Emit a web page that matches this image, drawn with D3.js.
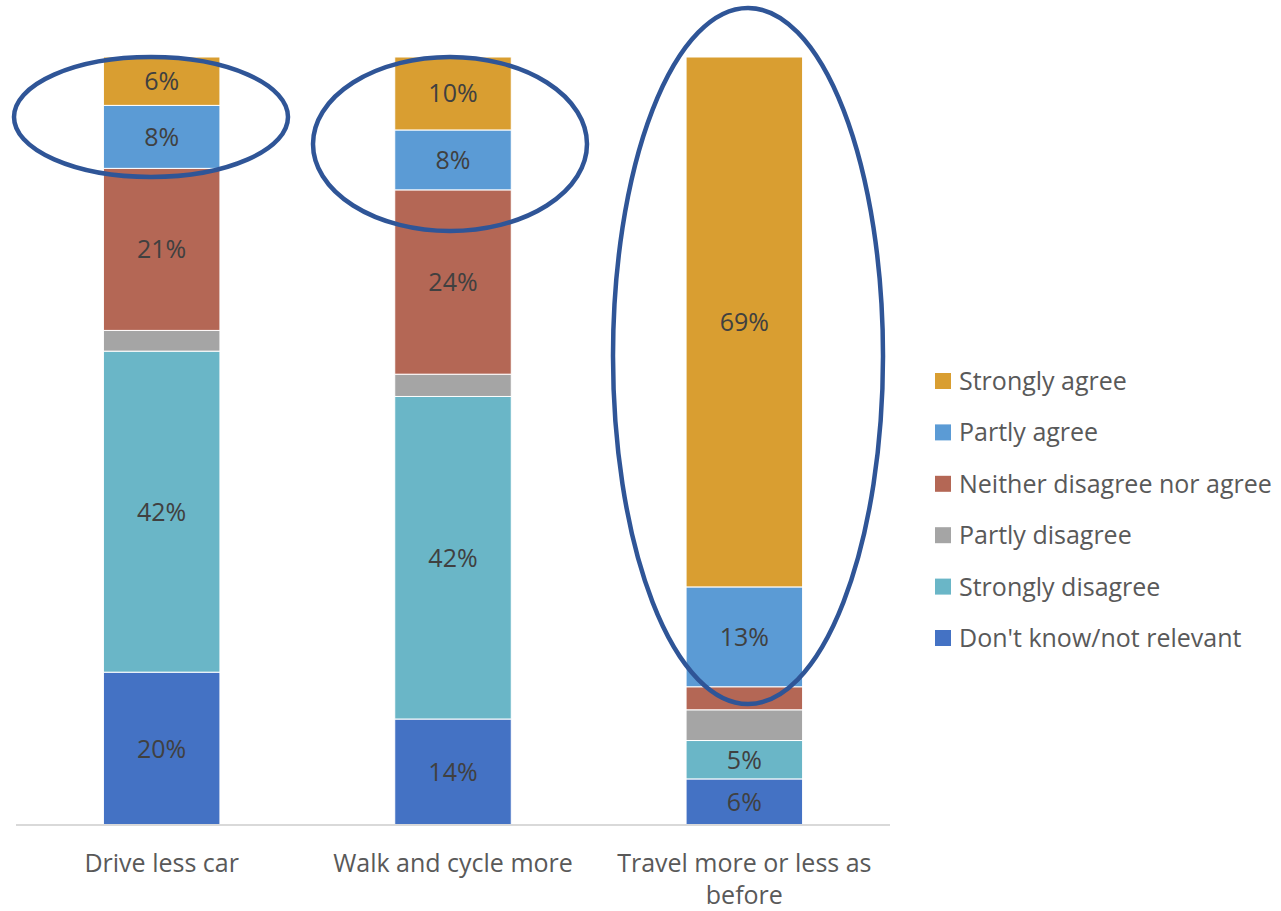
<!DOCTYPE html>
<html><head><meta charset="utf-8">
<script src="https://cdn.jsdelivr.net/npm/d3@7"></script>
<style>body{margin:0;background:#fff}svg{display:block}text{font-family:"Open Sans",Lato,sans-serif}</style>
</head><body>
<svg id="c" width="1281" height="911"></svg>
<script>
const categories = ["Drive less car", "Walk and cycle more", "Travel more or less as before"];
const seriesNames = ["Don't know/not relevant", "Strongly disagree", "Partly disagree", "Neither disagree nor agree", "Partly agree", "Strongly agree"];
const seriesColors = ["#4472C4", "#6AB6C7", "#A5A5A5", "#B46755", "#5B9BD5", "#D99E31"];
const dontKnow = [19.9, 13.8, 6];
const stronglyDisagree = [41.8, 42, 5];
const partlyDisagree = [2.7, 2.9, 4];
const neither = [21.1, 24, 3];
const partlyAgree = [8.2, 7.8, 13];
const stronglyAgree = [6.3, 9.5, 69];
const legendOrder = ["Strongly agree", "Partly agree", "Neither disagree nor agree", "Partly disagree", "Strongly disagree", "Don't know/not relevant"];

const seriesValues = [dontKnow, stronglyDisagree, partlyDisagree, neither, partlyAgree, stronglyAgree];
const rows = categories.map((c, i) => {
  const r = {cat: c};
  seriesNames.forEach((s, j) => r[s] = seriesValues[j][i]);
  return r;
});
const stack = d3.stack().keys(seriesNames)(rows);
const color = d3.scaleOrdinal(seriesNames, seriesColors);

const FS = 25;
const svg = d3.select("#c");
const x = d3.scaleBand().domain(categories).range([16, 890]).paddingInner(0.6).paddingOuter(0.3);
const y = d3.scaleLinear().domain([0, 100]).range([825, 57]);

const g = svg.append("g");
stack.forEach(layer => {
  g.selectAll(null).data(layer).enter().append("rect")
    .attr("x", d => x(d.data.cat))
    .attr("width", x.bandwidth())
    .attr("y", d => y(d[1]))
    .attr("height", d => y(d[0]) - y(d[1]))
    .attr("fill", color(layer.key))
    .attr("stroke", "#fff").attr("stroke-width", 1);
  g.selectAll(null).data(layer.filter(d => d[1] - d[0] >= 4.5)).enter().append("text")
    .attr("x", d => x(d.data.cat) + x.bandwidth() / 2)
    .attr("y", d => (y(d[0]) + y(d[1])) / 2)
    .attr("dy", "0.36em")
    .attr("text-anchor", "middle")
    .attr("font-size", FS)
    .attr("fill", "#404040")
    .text(d => Math.round(d[1] - d[0]) + "%");
});

// axis
const axis = svg.append("g").attr("transform", "translate(0,825)")
  .call(d3.axisBottom(x).tickSize(0).tickPadding(0));
axis.select(".domain").attr("stroke", "#D9D9D9").attr("stroke-width", 2).attr("d", "M16,0H890");
axis.selectAll(".tick text").remove();
axis.selectAll(".tick").each(function(d) {
  const t = d3.select(this).append("text").attr("text-anchor", "middle")
    .attr("fill", "#595959").attr("font-size", FS);
  const lines = d === "Travel more or less as before" ? ["Travel more or less as", "before"] : [d];
  lines.forEach((l, i) => t.append("tspan").attr("x", 0).attr("y", 47 + i * 32).text(l));
});

// ellipses
const ell = [
  {cx: 151, cy: 117, rx: 137, ry: 60},
  {cx: 450, cy: 144, rx: 137, ry: 87},
  {cx: 748, cy: 356, rx: 135, ry: 348}
];
svg.selectAll("ellipse").data(ell).enter().append("ellipse")
  .attr("cx", d => d.cx).attr("cy", d => d.cy).attr("rx", d => d.rx).attr("ry", d => d.ry)
  .attr("fill", "none").attr("stroke", "#2F5597").attr("stroke-width", 4.5);

// legend
const lg = svg.append("g").attr("transform", "translate(935,381)");
legendOrder.forEach((s, i) => {
  const row = lg.append("g").attr("transform", `translate(0,${i * 51.4})`);
  row.append("rect").attr("x", 0).attr("y", -8).attr("width", 16).attr("height", 16).attr("fill", color(s));
  row.append("text").attr("x", 24).attr("y", 0).attr("dy", "0.36em").attr("font-size", FS).attr("fill", "#595959").text(s);
});
</script>
</body></html>
